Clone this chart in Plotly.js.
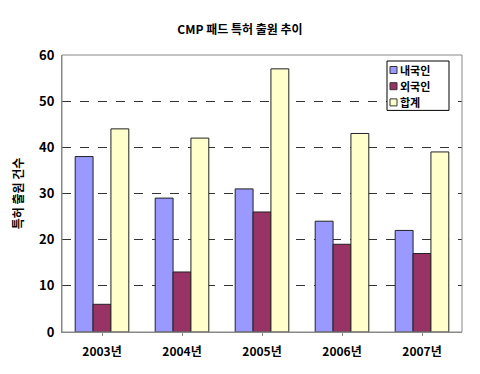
<!DOCTYPE html>
<html><head><meta charset="utf-8">
<script src="https://cdn.plot.ly/plotly-3.0.1.min.js"></script>
<style>body{margin:0;background:#fff}#c{width:480px;height:374px}</style>
</head><body><div id="c"></div>
<script>
const categories = ["2003년","2004년","2005년","2006년","2007년"];
const domestic = [38, 29, 31, 24, 22];
const foreign = [6, 13, 26, 19, 17];
const total = [44, 42, 57, 43, 39];
const seriesNames = ["내국인","외국인","합계"];
const colors = ["#9999FF","#993366","#FFFFCC"];
const F = "'Noto Sans CJK KR', 'DejaVu Sans', sans-serif";
const data = [domestic, foreign, total].map((v,i)=>({
  type:"bar", x:categories, y:v, name:seriesNames[i],
  marker:{color:colors[i], line:{color:"#222", width:1}}
}));
// plot area in px: x 62..462, y 55..332
const PW = 400, PH = 277;
const px = x => (x-62)/PW, py = y => (332-y)/PH;
const FS = 11, LS = 16.2;
const top0 = 61, rowC0 = top0 + 9;
const shapes = [{type:"rect", xref:"paper", yref:"paper", x0:0, x1:1, y0:0, y1:1, line:{color:"#888", width:1}},
  {type:"rect", xref:"paper", yref:"paper", x0:px(387), x1:px(449), y0:py(rowC0 + 2*LS + 8), y1:py(top0), fillcolor:"#fff", line:{color:"#000", width:1}}];
const annotations = [];
seriesNames.forEach((n,i)=>{
  const cy = rowC0 + i*LS;
  shapes.push({type:"rect", xref:"paper", yref:"paper", x0:px(390), x1:px(397), y0:py(cy+3.5), y1:py(cy-3.5), fillcolor:colors[i], line:{color:"#333", width:1}});
  annotations.push({xref:"paper", yref:"paper", x:px(399), y:py(cy), xanchor:"left", yanchor:"middle", align:"left",
    showarrow:false, borderpad:0, text:"<b>"+n+"</b>", font:{family:F, size:FS, color:"#000"}});
});
const layout = {
  width:480, height:374,
  margin:{l:62, r:18, t:55, b:42},
  paper_bgcolor:"#fff", plot_bgcolor:"#fff",
  title:{text:"<b>CMP 패드 특허 출원 추이</b>", font:{family:F, size:12, color:"#000"}, x:0.5, xanchor:"center", y:0.92, yanchor:"middle"},
  barmode:"group", bargap:0.33, bargroupgap:0,
  xaxis:{showline:true, linecolor:"#888", linewidth:1, mirror:false, ticks:"outside", ticklen:3, tickcolor:"#888",
    tickfont:{family:F, size:12, color:"#000", weight:"bold"}, showgrid:false, ticklabelstandoff:6},
  yaxis:{range:[0,60], dtick:10, showline:true, linecolor:"#888", linewidth:1,
    gridcolor:"#333", griddash:"dash", gridwidth:1, zeroline:false,
    tickfont:{family:F, size:13, color:"#000", weight:"bold"}, ticks:"", ticklabelstandoff:4,
    title:{text:"<b>특허 출원 건수</b>", font:{family:F, size:12, color:"#000"}, standoff:12}},
  shapes:shapes, annotations:annotations,
  showlegend:false
};
Plotly.newPlot("c", data, layout, {displayModeBar:false, staticPlot:true});
</script></body></html>
